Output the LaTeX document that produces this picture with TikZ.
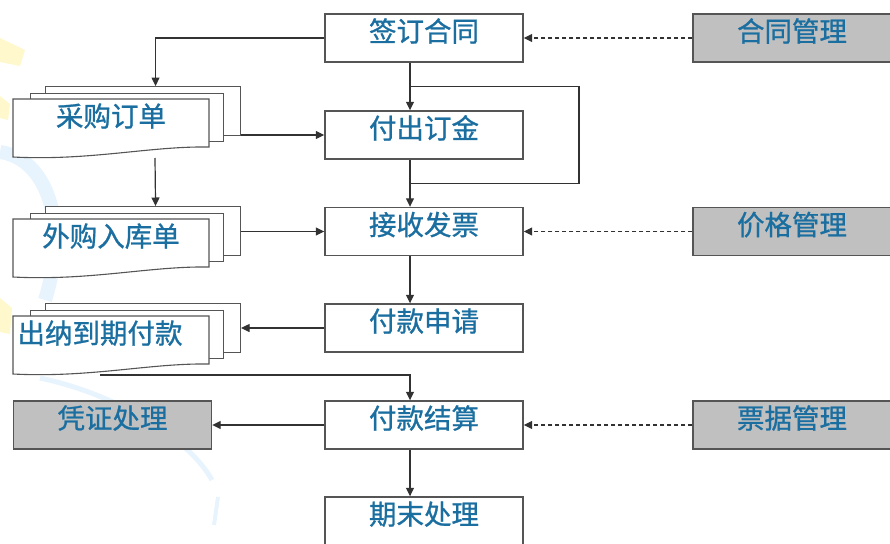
\documentclass[tikz,border=0pt]{standalone}
\usepackage{fontspec}
\newfontfamily\cjk[FakeBold=0.9]{Noto Sans CJK SC}
\usetikzlibrary{arrows.meta,calc}
\definecolor{txt}{RGB}{26,110,160}
\definecolor{edge}{RGB}{85,85,85}
\definecolor{grayfill}{RGB}{192,192,192}
\definecolor{wire}{RGB}{50,50,50}
\definecolor{bgyellow}{RGB}{255,248,205}
\definecolor{bgblue}{RGB}{232,244,253}
\newcommand\docstack[4]{%
  \node[layer, minimum width=195pt, minimum height=49pt, anchor=north west] (#1c) at (45,#2) {};
  \node[layer, minimum width=193pt, minimum height=48.5pt, anchor=north west] (#1b) at (30,#2+6.5) {};
  \draw[layerpath] (13,#2+13) -- (209,#2+13) -- (209,#2+61)
     .. controls (150,#2+60) and (90,#2+75) .. (13,#2+71) -- cycle;
  \node[doclabel] (#1) at (#4,#2+40.5) {#3};
}
\begin{document}
\begin{tikzpicture}[x=1pt,y=-1pt,
  box/.style={draw=edge, line width=1.4pt, minimum width=198pt, minimum height=48pt,
    inner sep=0pt, text=txt, font=\cjk\fontsize{27.5}{28}\selectfont,
    text height=21pt, text depth=14pt},
  proc/.style={box, fill=white},
  ext/.style={box, fill=grayfill},
  layer/.style={draw=edge, line width=1.1pt, fill=white, inner sep=0pt},
  layerpath/.style={draw=edge, line width=1.1pt, fill=white},
  doclabel/.style={anchor=base, text=txt, inner sep=0pt, font=\cjk\fontsize{27.5}{28}\selectfont},
  link/.style={draw=wire, line width=1.2pt},
  flow/.style={link, -{Triangle[length=8.5pt,width=8pt]}},
  ref/.style={flow, dash pattern=on 4pt off 3pt}
]
\useasboundingbox (0,0) rectangle (890,543);
% faint background decoration
\fill[bgyellow] (0,38) -- (25,50) -- (20,66) -- (0,62) -- cycle;
\fill[bgyellow] (0,96) -- (10,104) -- (8,120) -- (0,118) -- cycle;
\fill[bgyellow] (0,298) -- (12,308) -- (10,334) -- (0,332) -- cycle;
\draw[bgblue, line width=14pt] (0,152) .. controls (45,158) and (70,220) .. (45,300);
\draw[bgblue, line width=5pt] (40,378) .. controls (120,395) and (190,440) .. (212,480);
\draw[bgblue, line width=4pt] (218,497) -- (214,525);

% main process column
\node[proc] (qd) at (424,38) {签订合同};
\node[proc] (fc) at (424,135) {付出订金};
\node[proc] (js) at (424,231.5) {接收发票};
\node[proc] (fk) at (424,328) {付款申请};
\node[proc] (fj) at (424,425) {付款结算};
\node[proc] (qm) at (424,521) {期末处理};
% external modules
\node[ext] (ht) at (792,38) {合同管理};
\node[ext] (jg) at (792,231.5) {价格管理};
\node[ext] (pj) at (792,425) {票据管理};
\node[ext] (pz) at (112.5,425) {凭证处理};
% documents
\docstack{cg}{86}{采购订单}{111}
\docstack{wg}{206}{外购入库单}{111}
\docstack{cn}{303}{出纳到期付款}{100}
\coordinate (cgout) at (155,158);
\coordinate (cnout) at (100,375);

% connectors
\draw[flow] (qd.west) -| ($(cgc.north)+(12.5,0)$);
\draw[flow] (fc.west -| cgc.east) -- (fc.west);
\draw[flow] (cgout) -- ($(wgc.north)+(12.5,0)$);
\draw[flow] (js.west -| wgc.east) -- (js.west);
\draw[flow] (fk.west) -- (fk.west -| cnc.east);
\draw[flow] (cnout) -| ($(fj.north)+(-14,0)$);
\draw[flow] (fj.west) -- (pz.east);
\draw[flow] ($(qd.south)+(-14,0)$) -- ($(fc.north)+(-14,0)$);
\draw[flow] ($(fc.south)+(-14,0)$) -- ($(js.north)+(-14,0)$);
\draw[flow] ($(js.south)+(-14,0)$) -- ($(fk.north)+(-14,0)$);
\draw[flow] ($(fj.south)+(-14,0)$) -- ($(qm.north)+(-14,0)$);
\coordinate (split) at ($(qd.south)!0.5!(fc.north)+(-14,0)$);
\coordinate (merge) at ($(fc.south)!0.5!(js.north)+(-14,0)$);
\draw[link] (split) -- ++(169,0) |- (merge);
\draw[ref] (ht.west) -- (qd.east);
\draw[ref] (jg.west) -- (js.east);
\draw[ref] (pj.west) -- (fj.east);
\end{tikzpicture}
\end{document}
